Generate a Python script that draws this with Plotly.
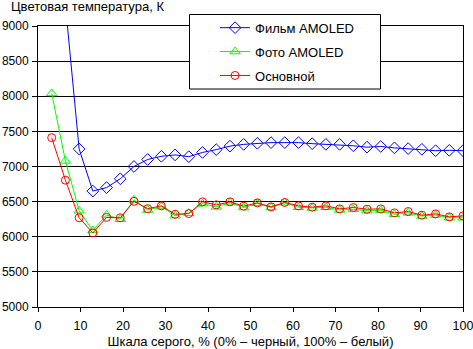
import plotly.graph_objects as go

# Grey levels (32 steps, 0 excluded) -> percent of grey scale
steps = list(range(1, 32))
x_pct = [k * 100 / 31 for k in steps]

film_amoled = [11500, 9300, 7250, 6650, 6700, 6825, 7000, 7100, 7145, 7165,
               7140, 7200, 7240, 7290, 7315, 7330, 7340, 7340, 7340, 7325,
               7315, 7315, 7295, 7275, 7285, 7265, 7255, 7245, 7225, 7230, 7225]
foto_amoled = [8040, 7080, 6370, 6090, 6310, 6250, 6525, 6380, 6430, 6300,
               6335, 6470, 6425, 6485, 6415, 6475, 6415, 6485, 6420, 6410,
               6420, 6380, 6390, 6370, 6375, 6320, 6340, 6295, 6310, 6270, 6270]
osnovnoy = [7410, 6805, 6270, 6055, 6275, 6270, 6505, 6400, 6440, 6320,
            6330, 6497, 6454, 6497, 6435, 6482, 6426, 6488, 6440, 6421,
            6440, 6397, 6416, 6392, 6397, 6340, 6359, 6307, 6326, 6283, 6297]

series_names = ["Фильм AMOLED", "Фото AMOLED", "Основной"]
y_ticks = list(range(5000, 9001, 500))
x_ticks = list(range(0, 101, 10))

FONT = "Liberation Sans, Arial, sans-serif"

def px_x(p):
    return (p - 38) / 425

def px_y(p):
    return 1 - (p - 26) / 281

fig = go.Figure()
fig.add_trace(go.Scatter(x=x_pct, y=film_amoled, name=series_names[0], mode="lines+markers",
                         line=dict(color="#0000FF", width=1),
                         marker=dict(symbol="diamond-open", size=9, color="#0000FF", line=dict(width=1)),
                         legendgroup="a"))
fig.add_trace(go.Scatter(x=x_pct, y=foto_amoled, name=series_names[1], mode="lines+markers",
                         line=dict(color="#00FF00", width=1),
                         marker=dict(symbol="triangle-up-open", size=9, color="#00FF00", line=dict(width=1)),
                         legendgroup="b"))
fig.add_trace(go.Scatter(x=x_pct, y=osnovnoy, name=series_names[2], mode="lines+markers",
                         line=dict(color="#FF0000", width=1),
                         marker=dict(symbol="circle-open", size=8, color="#FF0000", line=dict(width=1)),
                         legendgroup="c"))

fig.update_layout(
    width=473, height=349,
    margin=dict(l=38, r=10, t=26, b=42, autoexpand=False),
    paper_bgcolor="white", plot_bgcolor="white",
    font=dict(family=FONT, size=12.5, color="black"),
    showlegend=True,
    legend=dict(x=0.4166, y=1.0473, xanchor="left", yanchor="top",
                bgcolor="rgba(0,0,0,0)", borderwidth=0,
                tracegroupgap=4, font=dict(size=13)),
    shapes=[dict(type="rect", xref="paper", yref="paper",
                 x0=px_x(189.5), x1=px_x(380.5),
                 y0=px_y(89), y1=px_y(14.5),
                 line=dict(color="black", width=1), fillcolor="white", layer="above")],
    annotations=[dict(text="Цветовая температура, К", xref="paper", yref="paper",
                      x=px_x(9), y=px_y(6.5), xanchor="left", yanchor="middle",
                      showarrow=False, font=dict(size=13))],
)
fig.update_xaxes(range=[0, 100], tickvals=x_ticks, showgrid=False, zeroline=False, automargin=False,
                 showline=True, linecolor="black", linewidth=1, mirror=True,
                 ticks="outside", ticklen=4, tickcolor="black", ticklabelstandoff=3,
                 ticklabeloverflow="allow",
                 title=dict(text="Шкала серого, % (0% – черный, 100% – белый)", standoff=6,
                            font=dict(size=13)))
fig.update_yaxes(range=[5000, 9000], tickvals=y_ticks, showgrid=True, gridcolor="black", gridwidth=1,
                 zeroline=False, showline=True, linecolor="black", linewidth=1, mirror=True, automargin=False,
                 ticks="outside", ticklen=5, tickcolor="black", ticklabelstandoff=1,
                 ticklabeloverflow="allow", tickfont=dict(size=12))

fig.write_html("out.html")
